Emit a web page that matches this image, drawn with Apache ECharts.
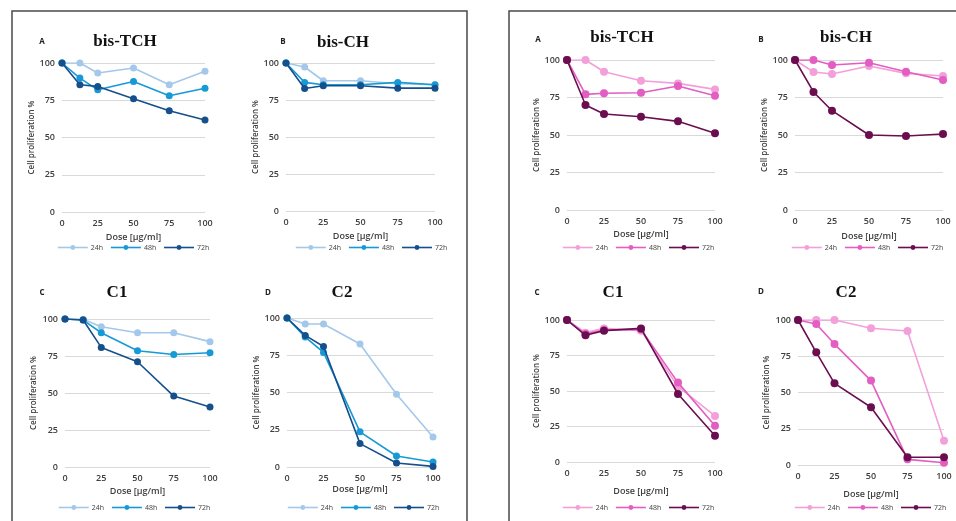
<!DOCTYPE html>
<html><head><meta charset="utf-8">
<script src="https://cdn.jsdelivr.net/npm/echarts@6/dist/echarts.min.js"></script>
<style>html,body{margin:0;padding:0;background:#fff}#c{width:956px;height:521px}</style>
</head><body><div id="c"></div>
<script>
// ---- data ----
const doses = [0, 12.5, 25, 50, 75, 100];
const xTicks = [0, 25, 50, 75, 100];
const yTicks = [0, 25, 50, 75, 100];
const timeLabels = ['24h', '48h', '72h'];
const panelTitles = ['bis-TCH', 'bis-CH', 'C1', 'C2', 'bis-TCH', 'bis-CH', 'C1', 'C2'];
const panelLetters = ['A', 'B', 'C', 'D', 'A', 'B', 'C', 'D'];
const yAxisTitle = 'Cell proliferation %';
const xAxisTitle = 'Dose [µg/ml]';

const blueBisTCH_24h = [100, 100, 93.3, 96.6, 85.4, 94.4];
const blueBisTCH_48h = [100, 89.9, 82.0, 87.6, 78.0, 83.0];
const blueBisTCH_72h = [100, 85.4, 84.3, 76.0, 68.0, 61.8];

const blueBisCH_24h = [100, 97.3, 88.0, 88.0, 86.0, 85.3];
const blueBisCH_48h = [100, 86.9, 85.3, 85.3, 86.9, 85.3];
const blueBisCH_72h = [100, 82.8, 84.6, 84.6, 83.0, 83.0];

const blueC1_24h = [100, 99.8, 94.8, 90.7, 90.7, 84.7];
const blueC1_48h = [100, 99.3, 90.7, 78.6, 76.0, 77.2];
const blueC1_72h = [100, 99.3, 80.8, 71.1, 47.9, 40.6];

const blueC2_24h = [100, 96.0, 96.0, 82.5, 48.8, 20.2];
const blueC2_48h = [100, 87.2, 76.9, 23.6, 7.4, 3.4];
const blueC2_72h = [100, 88.3, 80.9, 15.7, 2.7, 0.4];

const pinkBisTCH_24h = [100, 100, 92.2, 86.2, 84.4, 80.4];
const pinkBisTCH_48h = [100, 77.1, 77.8, 78.2, 82.7, 76.2];
const pinkBisTCH_72h = [100, 70.0, 64.0, 62.2, 59.1, 51.1];

const pinkBisCH_24h = [100, 92.0, 90.7, 96.0, 91.1, 89.3];
const pinkBisCH_48h = [100, 100, 96.7, 98.2, 92.2, 86.7];
const pinkBisCH_72h = [100, 78.7, 66.2, 50.0, 49.3, 50.7];

const pinkC1_24h = [100, 91.1, 94.1, 92.5, 53.0, 32.4];
const pinkC1_48h = [100, 90.1, 93.0, 93.4, 55.9, 25.6];
const pinkC1_72h = [100, 89.2, 92.5, 94.1, 47.9, 18.5];

const pinkC2_24h = [100, 100, 100, 94.3, 92.4, 16.8];
const pinkC2_48h = [100, 97.2, 83.4, 58.2, 3.9, 1.6];
const pinkC2_72h = [100, 77.7, 56.3, 39.8, 5.3, 5.3];

// ---- styling / layout ----
const bluePalette = ['#a3c8ea', '#169ad6', '#154f8c'];
const pinkPalette = ['#f3a0da', '#e35dc2', '#6a0e50'];
const panelSeries = [
  [blueBisTCH_24h, blueBisTCH_48h, blueBisTCH_72h],
  [blueBisCH_24h, blueBisCH_48h, blueBisCH_72h],
  [blueC1_24h, blueC1_48h, blueC1_72h],
  [blueC2_24h, blueC2_48h, blueC2_72h],
  [pinkBisTCH_24h, pinkBisTCH_48h, pinkBisTCH_72h],
  [pinkBisCH_24h, pinkBisCH_48h, pinkBisCH_72h],
  [pinkC1_24h, pinkC1_48h, pinkC1_72h],
  [pinkC2_24h, pinkC2_48h, pinkC2_72h]
];
// grid boxes: left, top, width, height ; title center ; letter pos ; yname center x ; xname center y ; legend center
const layout = [
  {g:[62,63,143,149],  t:[125,42], l:[42,42],  yn:33,  xn:238, lg:[128,248]},
  {g:[286,63,149,148], t:[343,43], l:[283,42], yn:257, xn:237, lg:[366,248]},
  {g:[65,319,145,148], t:[117,293],l:[42,293], yn:33,  xn:492, lg:[129,508]},
  {g:[287,318,146,149],t:[342,293],l:[268,293],yn:256, xn:490, lg:[358,508]},
  {g:[567,60,148,150], t:[622,38], l:[538,40], yn:537, xn:235, lg:[633,248]},
  {g:[795,60,148,150], t:[846,38], l:[761,40], yn:766, xn:237, lg:[862,248]},
  {g:[567,320,148,142],t:[613,293],l:[537,293],yn:537, xn:492, lg:[633,508]},
  {g:[798,320,146,145],t:[846,293],l:[761,292],yn:766, xn:495, lg:[865,508]}
];

const grids = [], xAxes = [], yAxes = [], series = [], legends = [], graphics = [];
const tickFont = {fontFamily: 'Open Sans, sans-serif', fontSize: 9, fontWeight: 600, color: '#404040'};

layout.forEach((L, i) => {
  const pal = i < 4 ? bluePalette : pinkPalette;
  const [gl, gt, gw, gh] = L.g;
  grids.push({left: gl, top: gt, width: gw, height: gh});
  xAxes.push({
    type: 'value', gridIndex: i, min: xTicks[0], max: xTicks[xTicks.length - 1],
    interval: xTicks[1] - xTicks[0],
    axisLine: {show: false}, axisTick: {show: false}, splitLine: {show: false},
    axisLabel: Object.assign({margin: 7}, tickFont),
    name: xAxisTitle, nameLocation: 'middle', nameGap: L.xn - (gt + gh) - 5,
    nameTextStyle: {fontFamily: 'Open Sans, sans-serif', fontSize: 9, fontWeight: 600, color: '#404040'}
  });
  yAxes.push({
    type: 'value', gridIndex: i, min: yTicks[0], max: yTicks[yTicks.length - 1],
    interval: yTicks[1] - yTicks[0],
    axisLine: {show: false}, axisTick: {show: false},
    splitLine: {show: true, lineStyle: {color: '#d9d9d9', width: 1}},
    axisLabel: Object.assign({margin: 7}, tickFont),
    name: yAxisTitle, nameLocation: 'middle', nameRotate: 90, nameGap: gl - L.yn - 5,
    nameTextStyle: {fontFamily: 'Open Sans, sans-serif', fontSize: 8, fontWeight: 600, color: '#404040'}
  });
  panelSeries[i].forEach((vals, k) => {
    series.push({
      type: 'line', name: timeLabels[k], xAxisIndex: i, yAxisIndex: i,
      data: doses.map((d, j) => [d, vals[j]]),
      symbol: 'circle', symbolSize: i < 4 ? 7 : 8, showSymbol: true,
      lineStyle: {color: pal[k], width: 1.6},
      itemStyle: {color: pal[k]},
      emphasis: {disabled: true}, animation: false, z: 2 + k
    });
  });
  legends.push({
    left: L.lg[0] - 71, top: L.lg[1] - 4, width: 200, orient: 'horizontal',
    itemWidth: 30, itemHeight: 6, itemGap: 7, selectedMode: false, padding: 0,
    textStyle: {fontFamily: 'Open Sans, sans-serif', fontSize: 7, color: '#404040', padding: [0, 0, 0, -2]},
    data: timeLabels.map((n, k) => ({name: n, itemStyle: {color: pal[k]}, lineStyle: {color: pal[k], width: 1.6}}))
  });
  graphics.push({
    type: 'text', x: L.t[0], y: L.t[1],
    style: {text: panelTitles[i], font: 'bold 17px "Liberation Serif", "Times New Roman", serif', fill: '#111', textAlign: 'center', textVerticalAlign: 'middle'}
  });
  graphics.push({
    type: 'text', x: L.l[0], y: L.l[1],
    style: {text: panelLetters[i], font: 'bold 8px "Open Sans", sans-serif', fill: '#222', textAlign: 'center', textVerticalAlign: 'middle'}
  });
});

// frames
const frameStyle = {stroke: '#4a4a4a', lineWidth: 1.5};
graphics.push({type: 'polyline', shape: {points: [[12, 521], [12, 11], [467, 11], [467, 521]]}, style: frameStyle, silent: true});
graphics.push({type: 'polyline', shape: {points: [[509, 521], [509, 11], [956, 11]]}, style: frameStyle, silent: true});

const chart = echarts.init(document.getElementById('c'), null, {renderer: 'canvas'});
chart.setOption({
  backgroundColor: '#fff',
  animation: false,
  grid: grids, xAxis: xAxes, yAxis: yAxes, series: series,
  legend: legends, graphic: graphics
});
</script></body></html>
